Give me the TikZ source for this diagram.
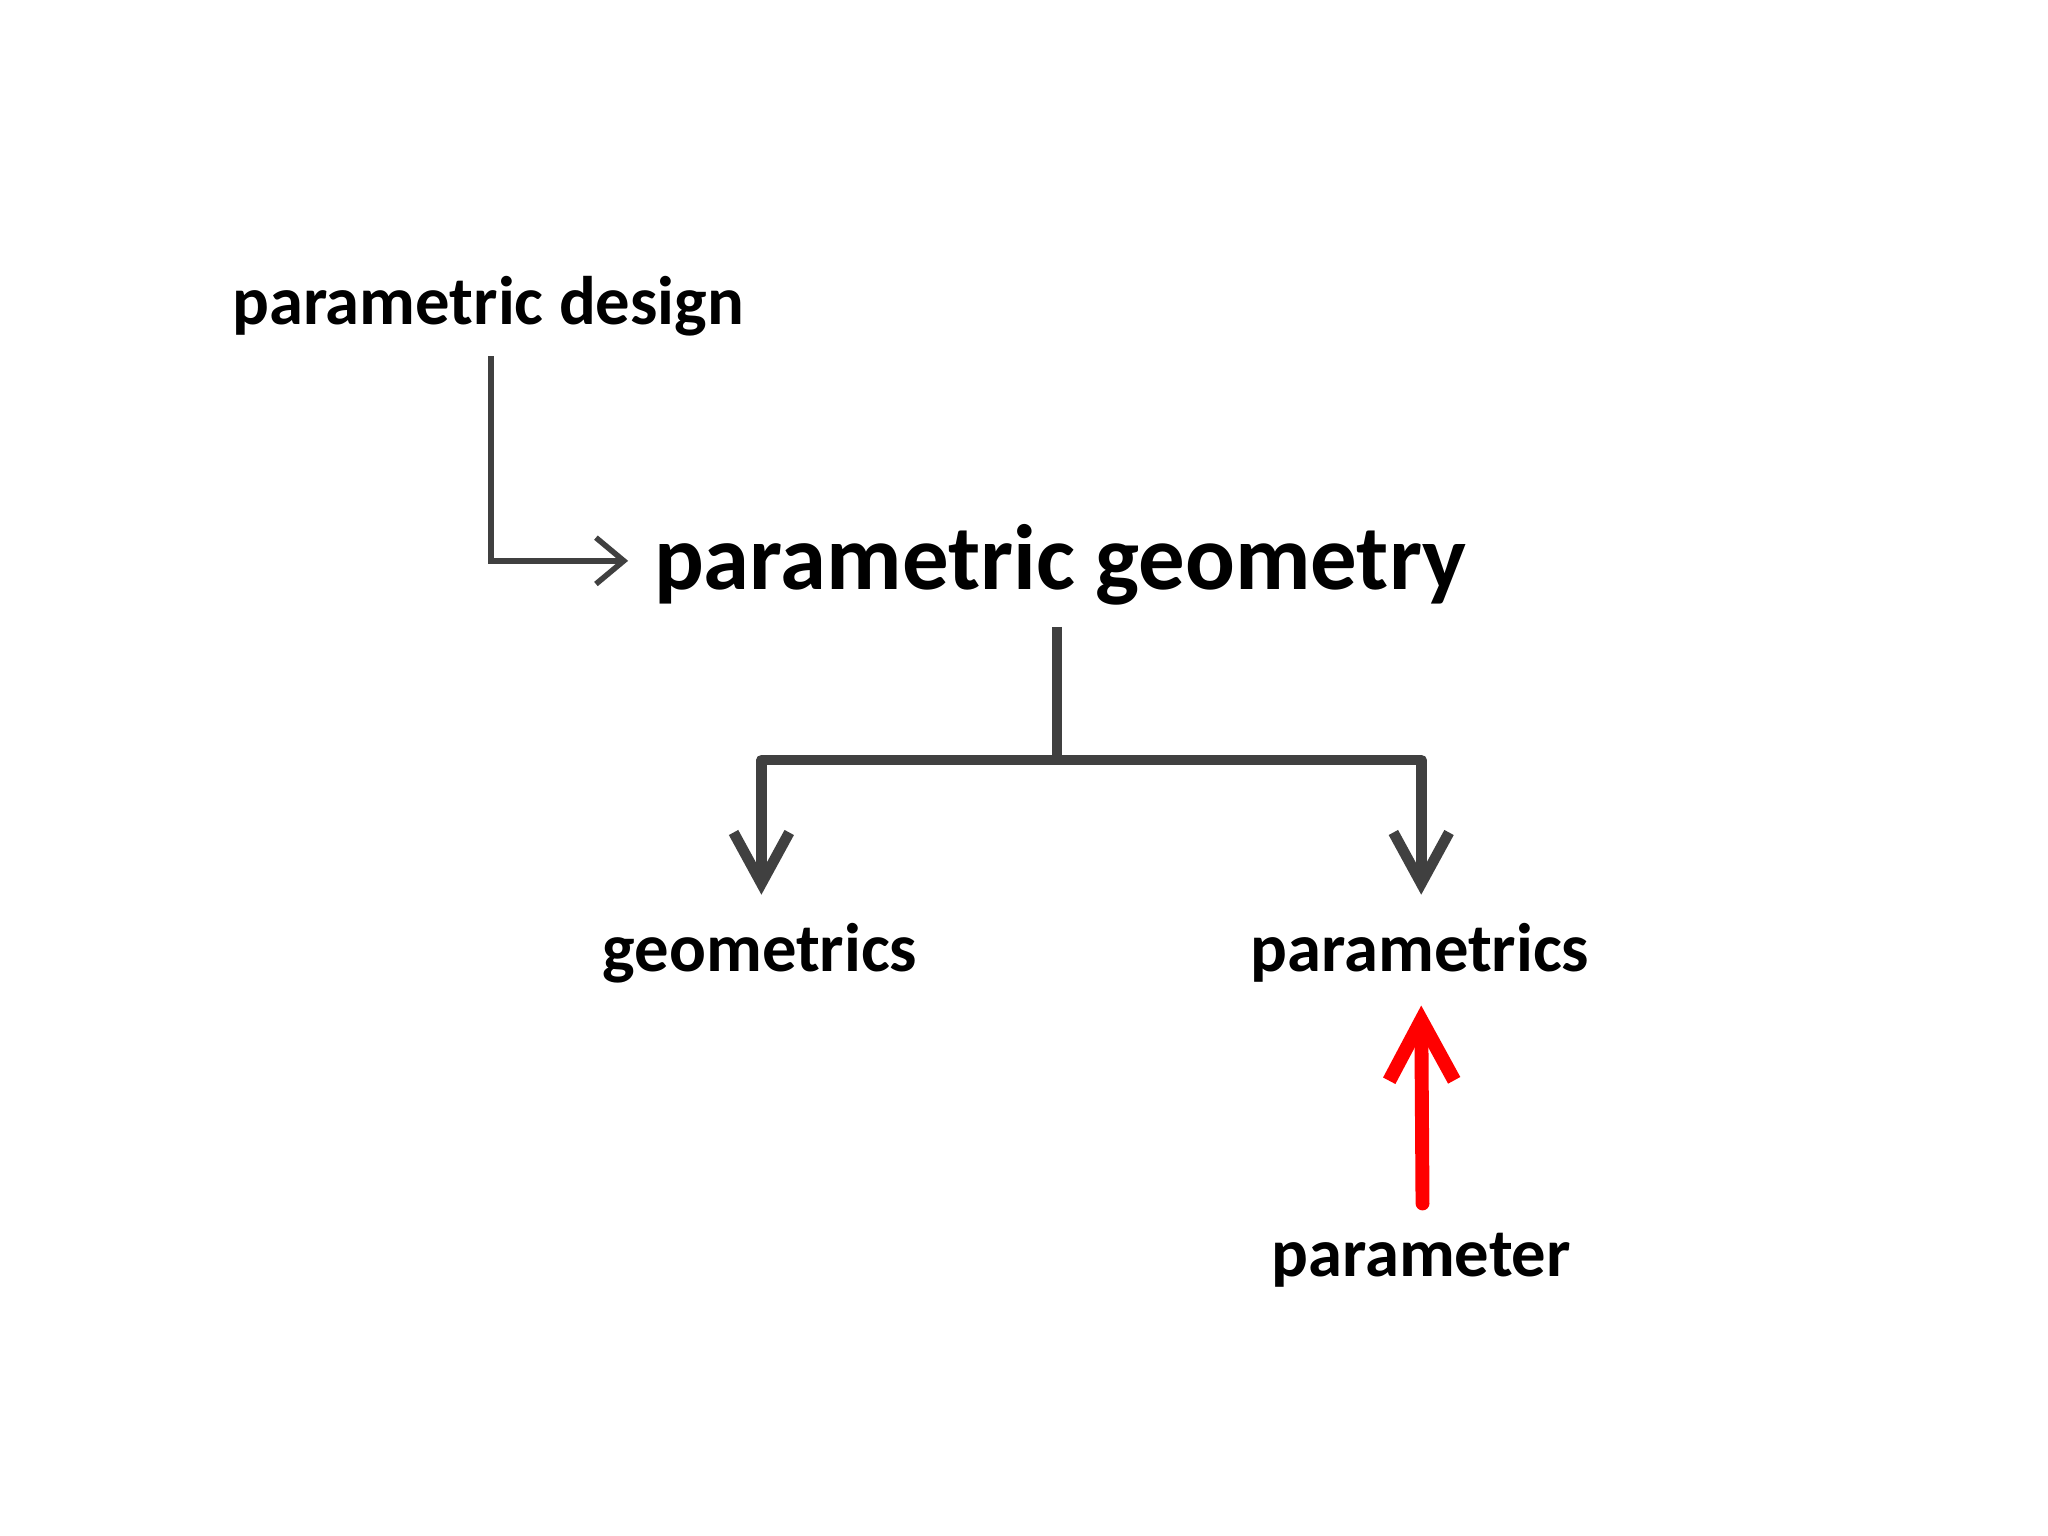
\documentclass[tikz,border=0pt]{standalone}
\usepackage{fontspec}
\setmainfont{Carlito}
\usetikzlibrary{arrows.meta}
\definecolor{lc}{RGB}{64,64,64}
\tikzset{lbl/.style={font=\bfseries\fontsize{14.8}{17}\selectfont,inner sep=0pt},
thin/.style={draw=lc,line width=1.2pt,-{Straight Barb[length=6pt,width=10pt,line width=1.2pt]}},
thick/.style={draw=lc,line width=2.3pt,line join=round,-{Straight Barb[length=11pt,width=12pt,line width=2.3pt]}}}
\begin{document}
\begin{tikzpicture}[x=0.01cm,y=-0.01cm]
\useasboundingbox (0,0) rectangle (1552,1164);
\node[lbl] (pd) at (370,232) {parametric design};
\node[lbl,font=\bfseries\fontsize{20}{24}\selectfont,anchor=west] (pg) at (495,428) {parametric geometry};
\node[lbl] (ge) at (576,722) {geometrics};
\node[lbl] (pa) at (1076,722) {parametrics};
\node[lbl] (pr) at (1077,955) {parameter};
\coordinate (a0) at (372,270);
\coordinate (a1) at (476,425);
\draw[thin] (a0) |- (a1);
\coordinate (b0) at (801,475);
\coordinate (bj) at (801,576);
\coordinate (gt) at (577,678);
\coordinate (pt) at (1077,678);
\draw[draw=lc,line width=2.3pt] (b0) -- (bj);
\draw[thick] (bj) -| (gt);
\draw[thick] (bj) -| (pt);
\coordinate (r0) at (1078,912);
\coordinate (r1) at (1077,762);
\draw[red,line width=3pt,line cap=round,-{Straight Barb[length=13pt,width=14pt,line width=3pt]}] (r0) -- (r1);
\end{tikzpicture}
\end{document}
